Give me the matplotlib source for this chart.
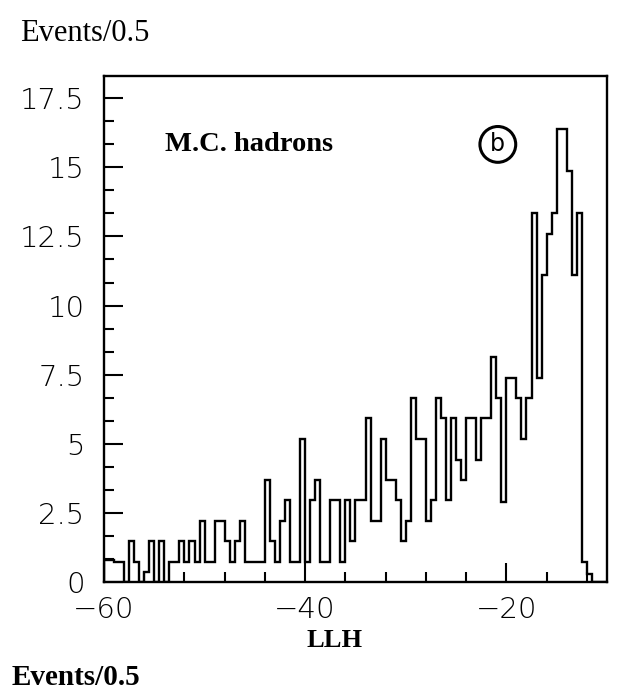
import numpy as np
import matplotlib
matplotlib.use("Agg")
import matplotlib.pyplot as plt
from matplotlib.ticker import MultipleLocator, FixedLocator

# LLH histogram, 0.5 wide bins from -60 to -10
llhLow = -60.0
llhHigh = -10.0
binWidth = 0.5

events = [0.79, 0.79, 0.72, 0.72, 0.0, 1.47, 0.72, 0.0, 0.36, 1.47,
          0.0, 1.47, 0.0, 0.72, 0.72, 1.47, 0.72, 1.47, 0.72, 2.2,
          0.72, 0.72, 2.2, 2.2, 1.47, 0.73, 1.47, 2.2, 0.73, 0.73,
          0.73, 0.73, 3.7, 1.47, 0.73, 2.2, 2.95, 0.73, 0.73, 5.17,
          0.73, 2.95, 3.7, 0.73, 0.73, 2.95, 2.95, 0.73, 2.95, 1.47,
          2.95, 2.95, 5.92, 2.2, 2.2, 5.17, 3.7, 3.7, 2.95, 1.47,
          2.2, 6.65, 5.17, 5.17, 2.2, 2.95, 6.65, 5.92, 2.95, 5.92,
          4.42, 3.7, 5.92, 5.92, 4.42, 5.92, 5.92, 8.15, 6.65, 2.9,
          7.38, 7.38, 6.65, 5.17, 6.65, 13.36, 7.38, 11.1, 12.6, 13.36,
          16.4, 16.4, 14.86, 11.12, 13.36, 0.72, 0.3, 0.0, 0.0, 0.0]

xMajor = [-60, -40, -20]
yMajor = [0, 2.5, 5, 7.5, 10, 12.5, 15, 17.5]
yLabels = ["0", "2.5", "5", "7.5", "10", "12.5", "15", "17.5"]

edges = np.linspace(llhLow, llhHigh, len(events) + 1)

plt.rcParams['font.family'] = ['DejaVu Sans']

fig = plt.figure(figsize=(6.2, 6.92), dpi=100)
ax = fig.add_axes([0.1677, 0.159, 0.8113, 0.731])

ax.stairs(events, edges, color='black', linewidth=1.7)

ax.set_xlim(llhLow, llhHigh)
ax.set_ylim(0, 18.3)

ax.xaxis.set_major_locator(FixedLocator(xMajor))
ax.xaxis.set_minor_locator(MultipleLocator(4))
ax.yaxis.set_major_locator(FixedLocator(yMajor))
ax.yaxis.set_minor_locator(MultipleLocator(2.5 / 3))
ax.set_xticklabels(["\u2212" + str(abs(v)) for v in xMajor])
ax.set_yticklabels(yLabels)

ax.tick_params(which='both', direction='in', top=False, right=False,
               width=1.5, labelsize=21)
ax.tick_params(which='major', length=14)
ax.tick_params(which='minor', length=7)
ax.tick_params(axis='x', pad=10)
ax.tick_params(axis='y', pad=14)
for lab in ax.get_xticklabels() + ax.get_yticklabels():
    lab.set_fontweight('light')

for sp in ax.spines.values():
    sp.set_linewidth(1.7)

ax.text(0.121, 0.865, "M.C. hadrons", transform=ax.transAxes,
        fontsize=20.5, family='Liberation Serif', fontweight='bold',
        va='center', ha='left')
ax.text(0.783, 0.865, "b", transform=ax.transAxes, fontsize=17,
        va='center', ha='center',
        bbox=dict(boxstyle='circle,pad=0.25', fc='white', ec='black', lw=2.2))

fig.text(0.032, 0.952, "Events/0.5", fontsize=22,
         family='Liberation Serif', va='center', ha='left')
fig.text(0.54, 0.074, "LLH", fontsize=19, family='Liberation Serif',
         fontweight='bold', va='center', ha='center')
fig.text(0.018, 0.001, "Events/0.5", fontsize=21,
         family='Liberation Serif', fontweight='bold',
         va='bottom', ha='left')

fig.savefig("out.png", dpi=100)
